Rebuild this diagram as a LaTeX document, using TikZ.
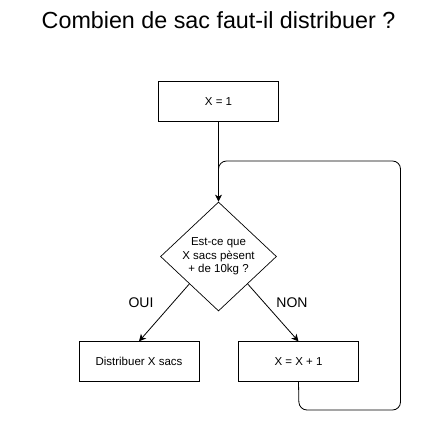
\documentclass[tikz,border=0pt]{standalone}
\usepackage{fontspec}
\setmainfont{Liberation Sans}
\usetikzlibrary{shapes.geometric,arrows.meta,calc}
\begin{document}
\begin{tikzpicture}[x=1pt,y=-1pt,
  box/.style={draw, line width=0.8pt, minimum width=120pt, minimum height=39.5pt, inner sep=0pt, font=\fontsize{11.5}{14}\selectfont},
  dec/.style={draw, line width=0.7pt, diamond, minimum width=116pt, minimum height=109pt, inner sep=0pt},
  arr/.style={draw, line width=0.8pt, -{Stealth[length=7pt,width=7pt,inset=2pt]}},
  lnk/.style={draw, line width=0.8pt, rounded corners=8pt},
  lbl/.style={font=\fontsize{14}{16}\selectfont, inner sep=0pt}]
\useasboundingbox (0,0) rectangle (441,420);
\node[font=\fontsize{23.3}{27}\selectfont, inner sep=0pt] (title) at (218.5,20) {Combien de sac faut-il distribuer ?};
\node[box] (x1) at (218.5,101.5) {X = 1};
\node[dec, label={[font=\fontsize{11.5}{13.5}\selectfont, align=center, inner sep=0pt]center:Est-ce que\\X sacs pèsent\\+ de 10kg ?}] (d) at (218.5,256.5) {};
\node[box] (l) at (139,361.5) {Distribuer X sacs};
\node[box] (r) at (298.5,361.5) {X = X + 1};
\node[lbl] (oui) at (141,303) {OUI};
\node[lbl] (non) at (292,303) {NON};
\coordinate (b1) at (299,410);
\coordinate (b2) at (400.5,410);
\coordinate (t2) at (400.5,161);
\coordinate (t1) at (218.5,161);
\coordinate (j) at (218.5,185);
\draw[arr] (x1.south) -- (d.north);
\draw[arr] ($(d.west)!0.5!(d.south)$) -- (l.north);
\draw[arr] ($(d.east)!0.5!(d.south)$) -- (r.north);
\draw[lnk] (r.south) -- (b1) -- (b2) -- (t2) -- (t1) -- (j);
\end{tikzpicture}
\end{document}
